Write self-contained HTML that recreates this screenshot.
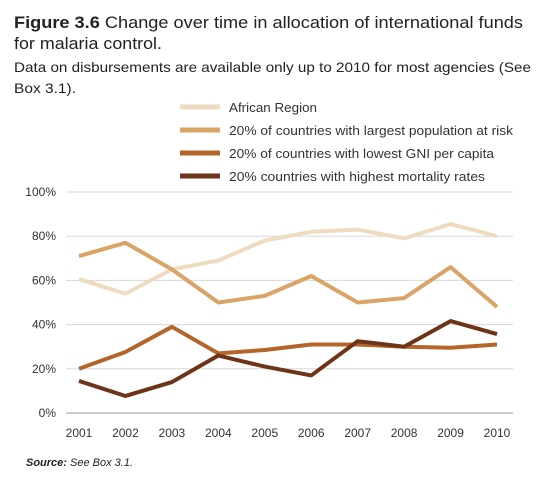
<!DOCTYPE html>
<html><head><meta charset="utf-8"><style>
body{margin:0;background:#fff;font-family:"Liberation Sans",sans-serif;}
</style></head><body>
<svg width="537" height="487" xmlns="http://www.w3.org/2000/svg" font-family="Liberation Sans, sans-serif">
<text x="14" y="28" font-size="16.5" fill="#222" textLength="509" lengthAdjust="spacingAndGlyphs"><tspan font-weight="bold">Figure 3.6</tspan> Change over time in allocation of international funds</text>
<text x="14" y="49" font-size="16.5" fill="#222" textLength="148" lengthAdjust="spacingAndGlyphs">for malaria control.</text>
<text x="14" y="72" font-size="14" fill="#222" textLength="517" lengthAdjust="spacingAndGlyphs">Data on disbursements are available only up to 2010 for most agencies (See</text>
<text x="14" y="93" font-size="14" fill="#222" textLength="62" lengthAdjust="spacingAndGlyphs">Box 3.1).</text>
<g id="legend"></g>
<g id="grid"></g>
<g id="series"></g>
<text x="26" y="466" font-size="11" font-style="italic" fill="#222"><tspan font-weight="bold">Source:</tspan> See Box 3.1.</text>
</svg>
<script>
const years=["2001","2002","2003","2004","2005","2006","2007","2008","2009","2010"];
const yTicks=[0,20,40,60,80,100];
const seriesNames=["African Region","20% of countries with largest population at risk","20% of countries with lowest GNI per capita","20% countries with highest mortality rates"];
const african=[60.6,54,65,69,78,82,83,79,85.5,80];
const largestPop=[71,77,65,50,53,62,50,52,66,48];
const lowestGni=[20,27.6,39,27,28.5,31,31,30,29.5,31];
const highestMort=[14.5,7.7,14,26,21,17,32.5,30,41.6,35.7];
const colors=["#efdcc0","#d9a466","#b5652a","#6e3418"];
const legendLens=[88,284,265,256];
const data=[african,largestPop,lowestGni,highestMort];
const NS="http://www.w3.org/2000/svg";
const x0=79,x1=497,yb=413,yt=192;
const xs=i=>x0+(x1-x0)*i/(years.length-1);
const ys=v=>yb-(yb-yt)*v/100;
function mk(t,a,p){const e=document.createElementNS(NS,t);for(const k in a)e.setAttribute(k,a[k]);p.appendChild(e);return e;}
const grid=document.getElementById('grid');
yTicks.forEach(t=>{
 const l=mk('line',{x1:66,x2:513,y1:ys(t),y2:ys(t),stroke:t===0?'#999':'#d8d8d8','stroke-width':1},grid);
 
 
 const tx=mk('text',{x:56,y:ys(t)+4,'font-size':12,fill:'#333','text-anchor':'end'},grid);
 tx.textContent=t+'%';
 
 
});
years.forEach((y,i)=>{
 const tx=mk('text',{x:xs(i),y:437,'font-size':12,fill:'#333','text-anchor':'middle'},grid);
 tx.textContent=y;
 
 
});
const sg=document.getElementById('series');
data.forEach((d,s)=>{
 const p=mk('polyline',{points:d.map((v,i)=>xs(i)+','+ys(v)).join(' '),fill:'none',stroke:colors[s],'stroke-width':4,'stroke-linejoin':'round'},sg);
 
 
});
const lg=document.getElementById('legend');
seriesNames.forEach((n,s)=>{
 const y=107+s*23;
 const l=mk('line',{x1:180,x2:220,y1:y,y2:y,stroke:colors[s],'stroke-width':5},lg);
 
 
 const t=mk('text',{x:229,y:y+5,'font-size':13,fill:'#333',textLength:legendLens[s],lengthAdjust:'spacingAndGlyphs'},lg);
 t.textContent=n;
 
 
});
</script>
</body></html>
